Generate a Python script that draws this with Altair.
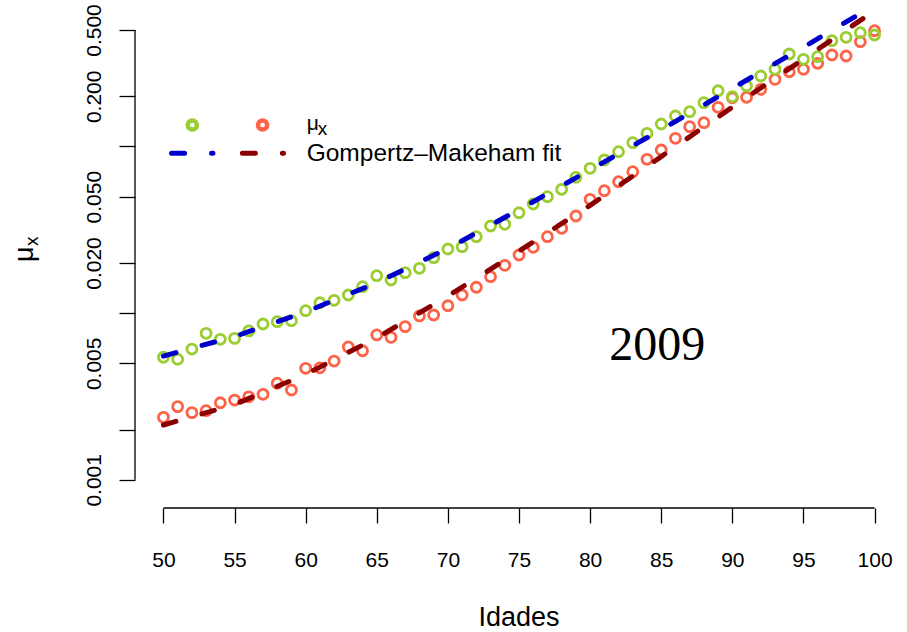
import altair as alt
import pandas as pd

# ---------------- data ----------------
ages = list(range(50, 101))
mu_2009_a = [0.00544, 0.00529, 0.00609, 0.00757, 0.00697, 0.00706, 0.00782, 0.00861, 0.00889, 0.00901,
             0.01035, 0.01155, 0.01194, 0.01285, 0.01442, 0.01678, 0.01581, 0.01749, 0.01858, 0.02152,
             0.02426, 0.02505, 0.02876, 0.03334, 0.03413, 0.04005, 0.04518, 0.04998, 0.05535, 0.06533,
             0.07398, 0.08298, 0.09308, 0.10543, 0.11997, 0.13645, 0.15240, 0.16170, 0.18313, 0.21606,
             0.19896, 0.23066, 0.26483, 0.29045, 0.35890, 0.33358, 0.34577, 0.43133, 0.45207, 0.48169, 0.46663]
mu_2009_b = [0.00237, 0.00275, 0.00253, 0.00260, 0.00290, 0.00301, 0.00315, 0.00326, 0.00380, 0.00346,
             0.00467, 0.00470, 0.00516, 0.00627, 0.00595, 0.00740, 0.00716, 0.00830, 0.00962, 0.00975,
             0.01108, 0.01285, 0.01430, 0.01655, 0.01936, 0.02233, 0.02484, 0.02876, 0.03229, 0.03828,
             0.04821, 0.05429, 0.06149, 0.07058, 0.08379, 0.09527, 0.11199, 0.13146, 0.13892, 0.17188,
             0.19600, 0.19732, 0.22028, 0.25292, 0.28104, 0.29045, 0.31570, 0.35397, 0.34912, 0.42541, 0.49518]
fit_ages = [50, 55, 60, 65, 70, 75, 80, 85, 90, 95, 100]
fit_a = [0.00553, 0.00724, 0.01018, 0.01523, 0.02443, 0.04180, 0.07236, 0.12627, 0.22313, 0.39409, 0.70627]
fit_b = [0.002133, 0.002831, 0.004292, 0.007115, 0.012658, 0.023566, 0.044378, 0.08697, 0.17235, 0.33450, 0.6528]
x_ticks = list(range(50, 101, 5))
y_ticks = [0.001, 0.002, 0.005, 0.01, 0.02, 0.05, 0.1, 0.2, 0.5]

# ---------------- styling ----------------
W, H = 768, 508
GREEN, TOMATO, BLUE, DARKRED = "#9ACD32", "#FF6347", "#0000CD", "#8B0000"
SANS = "Liberation Sans, Arial, Helvetica, sans-serif"
NARROW = "Liberation Sans Narrow, Liberation Sans, Arial, sans-serif"

xscale = alt.Scale(domain=[48, 102], nice=False, zero=False)
yscale = alt.Scale(type="log", domain=[0.0006776, 0.7568], nice=False)

xaxis = alt.Axis(values=x_ticks, domain=False, grid=False, tickSize=15, tickWidth=1.3,
                 tickColor="black", labelFont=SANS, labelFontSize=21, labelColor="black",
                 labelPadding=26, labelFlush=False, labelOverlap=False, title=None)
yaxis = alt.Axis(values=y_ticks, domain=False, grid=False, tickSize=16, tickWidth=1.3,
                 tickColor="black", labelFont=NARROW, labelFontSize=21, labelColor="black",
                 labelAngle=270, labelAlign="center", labelBaseline="alphabetic",
                 labelPadding=19, labelFlush=False, labelOverlap=False, title=None,
                 labelExpr="(abs(datum.value-0.1)<1e-9 || abs(datum.value-0.01)<1e-9 || abs(datum.value-0.002)<1e-9) ? '' : format(datum.value, '.3f')")


def X(f):
    return alt.X(f, type="quantitative", scale=xscale, axis=xaxis)


def Y(f):
    return alt.Y(f, type="quantitative", scale=yscale, axis=yaxis)


pts_a = pd.DataFrame({"age": ages, "mu": mu_2009_a})
pts_b = pd.DataFrame({"age": ages, "mu": mu_2009_b})
fa = pd.DataFrame({"age": fit_ages, "mu": fit_a})
fb = pd.DataFrame({"age": fit_ages, "mu": fit_b})

points_b = alt.Chart(pts_b).mark_point(shape="circle", filled=False, size=100, strokeWidth=2.8,
                                       color=TOMATO, opacity=1).encode(x=X("age"), y=Y("mu"))
points_a = alt.Chart(pts_a).mark_point(shape="circle", filled=False, size=100, strokeWidth=2.8,
                                       color=GREEN, opacity=1).encode(x=X("age"), y=Y("mu"))
dash = [13, 27]
line_a = alt.Chart(fa).mark_line(color=BLUE, strokeWidth=5, strokeDash=dash, strokeCap="round").encode(
    x=X("age"), y=Y("mu"))
line_b = alt.Chart(fb).mark_line(color=DARKRED, strokeWidth=5, strokeDash=dash, strokeCap="round").encode(
    x=X("age"), y=Y("mu"))

# axis lines spanning the tick range only (R style)
xline = alt.Chart(pd.DataFrame({"a": [x_ticks[0]], "b": [x_ticks[-1]]})).mark_rule(
    color="black", strokeWidth=1.3).encode(x=X("a"), x2="b", y=alt.value(H))
yline = alt.Chart(pd.DataFrame({"a": [y_ticks[0]], "b": [y_ticks[-1]]})).mark_rule(
    color="black", strokeWidth=1.3).encode(y=Y("a"), y2="b", x=alt.value(0))

# legend (placed in data coordinates)
leg_pts = pd.DataFrame({"age": [52.03, 56.97], "mu": [0.1346, 0.1346], "c": [GREEN, TOMATO]})
legend_pts = alt.Chart(leg_pts).mark_point(shape="circle", filled=False, size=85, strokeWidth=4.5,
                                           opacity=1).encode(x=X("age"), y=Y("mu"),
                                                             color=alt.Color("c:N", scale=None))
leg_lines = pd.DataFrame({"a": [50.57, 55.55], "b": [53.48, 58.44], "mu": [0.0910, 0.0910],
                          "c": [BLUE, DARKRED]})
legend_lines = alt.Chart(leg_lines).mark_rule(strokeWidth=5, strokeDash=dash, strokeCap="round").encode(
    x=X("a"), x2="b", y=Y("mu"), color=alt.Color("c:N", scale=None))
leg_mu = alt.Chart(pd.DataFrame({"age": [60.07], "mu": [0.1250], "t": ["μ"]})).mark_text(
    font=SANS, fontSize=21, align="left", baseline="alphabetic", color="black").encode(
    x=X("age"), y=Y("mu"), text="t:N")
leg_x = alt.Chart(pd.DataFrame({"age": [60.07], "mu": [0.1172], "t": ["x"]})).mark_text(
    font=SANS, fontSize=19, align="left", baseline="alphabetic", color="black", dx=11).encode(
    x=X("age"), y=Y("mu"), text="t:N")
leg_fit = alt.Chart(pd.DataFrame({"age": [60.07], "mu": [0.0818], "t": ["Gompertz–Makeham fit"]})).mark_text(
    font=SANS, fontSize=24.5, align="left", baseline="alphabetic", color="black").encode(
    x=X("age"), y=Y("mu"), text="t:N")
year = alt.Chart(pd.DataFrame({"age": [84.72], "mu": [0.00524], "t": ["2009"]})).mark_text(
    font="Liberation Serif, Times New Roman, serif", fontSize=48, align="center",
    baseline="alphabetic", color="black").encode(x=X("age"), y=Y("mu"), text="t:N")

# axis titles
xtitle = alt.Chart(pd.DataFrame({"t": ["Idades"]})).mark_text(
    font=SANS, fontSize=27, align="center", baseline="alphabetic", color="black").encode(
    x=alt.value(W / 2), y=alt.value(626), text="t:N")
ytitle_mu = alt.Chart(pd.DataFrame({"t": ["μ"]})).mark_text(
    font=SANS, fontSize=27, align="left", baseline="alphabetic", angle=270, color="black").encode(
    x=alt.value(33 - 135), y=alt.value(262), text="t:N")
ytitle_x = alt.Chart(pd.DataFrame({"t": ["x"]})).mark_text(
    font=SANS, fontSize=19, align="left", baseline="alphabetic", angle=270, color="black").encode(
    x=alt.value(37.5 - 135), y=alt.value(246), text="t:N")

chart = alt.layer(
    xline, yline, points_b, points_a, line_a, line_b,
    legend_pts, legend_lines, leg_mu, leg_x, leg_fit, year,
    xtitle, ytitle_mu, ytitle_x,
).properties(
    width=W, height=H,
    autosize=alt.AutoSizeParams(type="none"),
    padding={"left": 135, "top": 0, "right": 4, "bottom": 124},
    background="white",
).configure_view(stroke="transparent")

chart.save("out.html", embed_options={"renderer": "svg", "actions": False})
